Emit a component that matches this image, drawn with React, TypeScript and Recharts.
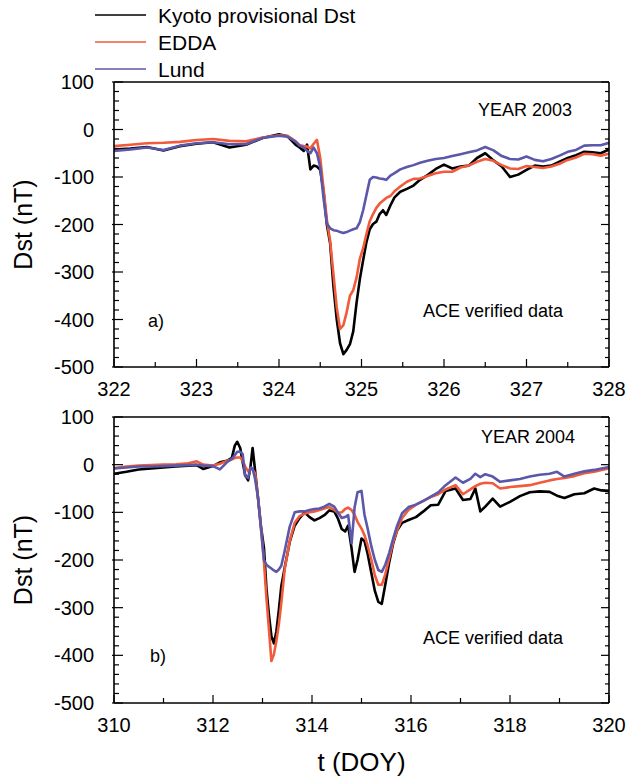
import React from 'react';
import { LineChart, Line, XAxis, YAxis } from 'recharts';

const FONT = '"Liberation Sans", Arial, Helvetica, sans-serif';
const NARROW = '"Liberation Sans Narrow", "Arial Narrow", "Liberation Sans", Arial, sans-serif';
const KYOTO_COLOR = '#000000';
const EDDA_COLOR = '#f15a3a';
const LUND_COLOR = '#5b57a9';

const PLOT_LEFT = 114;
const PLOT_RIGHT = 609;

// ---- panel a), 2003 ----
const timesA = [
  322.0, 322.2, 322.4, 322.6, 322.8, 323.0, 323.2, 323.4, 323.6, 323.8,
  324.0, 324.1, 324.2, 324.25, 324.3, 324.34, 324.38, 324.42, 324.46, 324.5,
  324.54, 324.58, 324.62, 324.66, 324.7, 324.74, 324.78, 324.82, 324.86, 324.9, 324.94, 324.98,
  325.02, 325.06, 325.1, 325.14, 325.18, 325.22, 325.26, 325.3,
  325.35, 325.4, 325.47, 325.55, 325.63, 325.71, 325.8, 325.9,
  326.0, 326.1, 326.2, 326.3, 326.4, 326.5, 326.6, 326.7, 326.8, 326.9, 327.0,
  327.1, 327.2, 327.3, 327.4, 327.5, 327.6, 327.7, 327.8, 327.9, 328.0,
];
const kyotoA = [
  -42, -40, -37, -44, -35, -30, -27, -38, -32, -18,
  -10, -14, -32, -38, -45, -32, -84, -76, -78, -85,
  -130, -200, -240, -331, -400, -450, -473, -464, -452, -425, -365, -315,
  -275, -237, -210, -199, -194, -178, -170, -180,
  -160, -143, -131, -125, -118, -106, -96, -83,
  -74, -82, -78, -76, -60, -50, -65, -78, -100, -95, -85,
  -76, -78, -76, -68, -60, -54, -47, -48, -50, -42,
];
const eddaA = [
  -35, -32, -29, -28, -26, -22, -20, -24, -25, -17,
  -12, -13, -25, -33, -35, -36, -40, -30, -22, -60,
  -125, -190, -235, -305, -375, -420, -412, -385, -350, -338, -312, -272,
  -250, -220, -193, -178, -165, -156, -150, -144,
  -140, -130, -120, -110, -104, -103, -98, -92,
  -89, -89, -80, -76, -68, -62, -66, -75, -82, -83, -77,
  -79, -81, -78, -72, -64, -59, -51, -52, -55, -51,
];
const lundA = [
  -45, -42, -38, -43, -34, -29, -27, -31, -31, -18,
  -13, -15, -25, -34, -38, -45, -50, -38, -50, -80,
  -145, -198, -208, -212, -213, -216, -218, -216, -213, -210, -208, -195,
  -170, -138, -106, -100, -101, -103, -104, -106,
  -97, -92, -84, -79, -75, -70, -66, -62,
  -60, -56, -52, -48, -44, -37, -44, -56, -62, -63, -57,
  -64, -67, -62, -55, -47, -43, -34, -33, -33, -28,
];
const xTicksA = [322, 322.5, 323, 323.5, 324, 324.5, 325, 325.5, 326, 326.5, 327, 327.5, 328];
const xLabelsA = [322, 323, 324, 325, 326, 327, 328];

// ---- panel b), 2004 ----
const timesB = [
  310.0, 310.25, 310.5, 310.75, 311.0, 311.25, 311.5, 311.67, 311.8, 312.0,
  312.14, 312.28, 312.38, 312.44, 312.49, 312.55, 312.6, 312.65, 312.71, 312.76,
  312.8, 312.85, 312.91, 312.97, 313.03, 313.08, 313.13, 313.18, 313.23, 313.28,
  313.33, 313.38, 313.45, 313.55, 313.65, 313.75, 313.85, 313.95, 314.05, 314.15,
  314.25, 314.35, 314.45, 314.52, 314.6, 314.67, 314.73, 314.8, 314.86, 314.92,
  315.0, 315.06, 315.12, 315.2, 315.27, 315.34, 315.41, 315.48, 315.56, 315.64,
  315.72, 315.82, 315.95, 316.1, 316.25, 316.4, 316.55, 316.7, 316.9, 317.05,
  317.2, 317.3, 317.4, 317.5, 317.65, 317.8, 318.0, 318.2, 318.4, 318.6,
  318.8, 318.95, 319.1, 319.3, 319.5, 319.7, 319.85, 320.0,
];
const kyotoB = [
  -19, -15, -10, -8, -6, -4, -2, -1, -9, -3,
  5, 8, 14, 40, 48, 35, 5, -22, -33, -2,
  35, -12, -70, -130, -175, -260, -315, -360, -375, -350,
  -305, -255, -215, -162, -128, -112, -100, -110, -117, -112,
  -106, -96, -98, -112, -135, -140, -128, -176, -225, -200,
  -155, -160, -185, -228, -265, -288, -292, -252, -205, -165,
  -138, -122, -116, -110, -98, -85, -84, -55, -50, -74,
  -72, -50, -98, -88, -71, -88, -78, -66, -58, -56,
  -57, -65, -70, -62, -60, -50, -54, -55,
];
const eddaB = [
  -7, -4, -2, -1, 0, 1, 3, 7, 0, -2,
  2, 8, 11, 14, 15, 15, 8, -4, -14, -8,
  -10, -18, -70, -132, -205, -280, -345, -412, -398, -370,
  -335, -290, -218, -160, -122, -108, -103, -100, -98, -95,
  -92, -89, -95, -101, -100, -93, -90, -95, -105, -120,
  -134, -148, -168, -200, -232, -252, -252, -230, -196, -162,
  -138, -112, -95, -84, -76, -68, -62, -52, -43, -62,
  -52, -45, -40, -38, -39, -50, -47, -45, -43, -38,
  -33, -30, -28, -24, -18, -15, -11, -8,
];
const lundB = [
  -8, -6, -4, -4, -3, -2, -1, 0, -2, -3,
  -10, 5, 12, 20, 27, 27, 22, -24, -28, -6,
  -8, -30, -70, -135, -200, -210, -214, -218, -222, -225,
  -220, -212, -180, -130, -100, -98, -98, -95, -93, -92,
  -88, -82, -88, -100, -112, -110, -106, -165, -90, -58,
  -55, -105, -132, -172, -200, -221, -225, -210, -185, -155,
  -128, -102, -89, -84, -76, -67, -58, -43, -27, -38,
  -30, -19, -26, -20, -25, -36, -33, -30, -25, -21,
  -19, -15, -25, -19, -14, -11, -8, -5,
];
const xTicksB = [310, 311, 312, 313, 314, 315, 316, 317, 318, 319, 320];
const xLabelsB = [310, 312, 314, 316, 318, 320];

const yTicks = Array.from({ length: 31 }, (_, i) => -500 + i * 20);
const yDomain: [number, number] = [-500, 100];

function XTick(props: any) {
  const { x, payload, plotBottom, labels } = props;
  const major = labels.includes(payload.value);
  return (
    <g>
      <line x1={x} x2={x} y1={plotBottom} y2={plotBottom - (major ? 8 : 5)} stroke="#000" strokeWidth={1.2} />
      {major && (
        <text x={x} y={plotBottom + 29} textAnchor="middle" fontSize={20} fontFamily={FONT} fill="#000">
          {payload.value}
        </text>
      )}
    </g>
  );
}

function YTickLeft(props: any) {
  const { y, payload } = props;
  const major = payload.value % 100 === 0;
  return (
    <g>
      <line x1={PLOT_LEFT - (major ? 2 : 0)} x2={PLOT_LEFT + (major ? 9 : 5)} y1={y} y2={y} stroke="#000" strokeWidth={1.2} />
      {major && (
        <text x={94} y={y} dy="0.35em" textAnchor="end" fontSize={20} fontFamily={FONT} fill="#000">
          {payload.value}
        </text>
      )}
    </g>
  );
}

function YTickRight(props: any) {
  const { y, payload } = props;
  const major = payload.value % 100 === 0;
  return <line x1={PLOT_RIGHT} x2={PLOT_RIGHT - (major ? 8 : 4)} y1={y} y2={y} stroke="#000" strokeWidth={1.2} />;
}

type PanelProps = {
  times: number[];
  kyoto: number[];
  edda: number[];
  lund: number[];
  domain: [number, number];
  xTicks: number[];
  xLabels: number[];
  top: number;
  height: number;
  marginTop: number;
  bottomAxis: number;
};

function Panel(p: PanelProps) {
  const data = p.times.map((t, i) => ({ t, kyoto: p.kyoto[i], edda: p.edda[i], lund: p.lund[i] }));
  const plotBottom = p.height - p.bottomAxis;
  const axisLine = { stroke: '#000', strokeWidth: 1.6 };
  const lineProps = {
    xAxisId: 'b',
    yAxisId: 'l',
    type: 'linear' as const,
    dot: false,
    strokeWidth: 2.6,
    strokeLinejoin: 'round' as const,
    isAnimationActive: false,
  };
  return (
    <div style={{ position: 'absolute', left: 0, top: p.top }}>
      <LineChart width={628} height={p.height} data={data} margin={{ top: p.marginTop, right: 0, bottom: 0, left: 0 }}>
        <XAxis
          xAxisId="b"
          dataKey="t"
          type="number"
          domain={p.domain}
          ticks={p.xTicks}
          interval={0}
          allowDataOverflow
          height={p.bottomAxis}
          tickLine={false}
          axisLine={axisLine}
          tick={(tp: any) => <XTick {...tp} plotBottom={plotBottom} labels={p.xLabels} />}
        />
        <XAxis
          xAxisId="t"
          orientation="top"
          dataKey="t"
          type="number"
          domain={p.domain}
          allowDataOverflow
          height={2}
          tick={false}
          tickLine={false}
          axisLine={axisLine}
        />
        <YAxis
          yAxisId="l"
          type="number"
          domain={yDomain}
          ticks={yTicks}
          interval={0}
          allowDataOverflow
          width={PLOT_LEFT}
          tickLine={false}
          axisLine={axisLine}
          tick={(tp: any) => <YTickLeft {...tp} />}
        />
        <YAxis
          yAxisId="r"
          orientation="right"
          type="number"
          domain={yDomain}
          ticks={yTicks}
          interval={0}
          allowDataOverflow
          width={628 - PLOT_RIGHT}
          tickLine={false}
          axisLine={axisLine}
          tick={(tp: any) => <YTickRight {...tp} />}
        />
        <Line {...lineProps} dataKey="kyoto" stroke={KYOTO_COLOR} />
        <Line {...lineProps} dataKey="edda" stroke={EDDA_COLOR} />
        <Line {...lineProps} dataKey="lund" stroke={LUND_COLOR} />
      </LineChart>
    </div>
  );
}

const legendItems = [
  { label: 'Kyoto provisional Dst', color: KYOTO_COLOR, y: 15 },
  { label: 'EDDA', color: EDDA_COLOR, y: 42 },
  { label: 'Lund', color: LUND_COLOR, y: 69 },
];

export default function App() {
  const t = { fontFamily: FONT, fill: '#000' };
  return (
    <div style={{ position: 'absolute', left: 0, top: 0, width: 628, height: 778, background: '#fff' }}>
      <Panel
        times={timesA}
        kyoto={kyotoA}
        edda={eddaA}
        lund={lundA}
        domain={[322, 328]}
        xTicks={xTicksA}
        xLabels={xLabelsA}
        top={0}
        height={400}
        marginTop={80}
        bottomAxis={33}
      />
      <Panel
        times={timesB}
        kyoto={kyotoB}
        edda={eddaB}
        lund={lundB}
        domain={[310, 320]}
        xTicks={xTicksB}
        xLabels={xLabelsB}
        top={400}
        height={378}
        marginTop={15}
        bottomAxis={75}
      />
      <svg width={628} height={778} style={{ position: 'absolute', left: 0, top: 0, pointerEvents: 'none' }}>
        {legendItems.map((it) => (
          <g key={it.label}>
            <line x1={95} x2={146} y1={it.y} y2={it.y} stroke={it.color} strokeWidth={1.4} />
            <text x={158} y={it.y + 8} fontSize={21} fontFamily={NARROW} fill="#000">
              {it.label}
            </text>
          </g>
        ))}
        <text transform="translate(32,224.5) rotate(-90)" textAnchor="middle" fontSize={25} {...t}>
          Dst (nT)
        </text>
        <text transform="translate(32,560) rotate(-90)" textAnchor="middle" fontSize={25} {...t}>
          Dst (nT)
        </text>
        <text x={361.5} y={771} textAnchor="middle" fontSize={26} {...t}>
          t (DOY)
        </text>
        <text x={478} y={116} fontSize={18} {...t}>YEAR 2003</text>
        <text x={423} y={317} fontSize={18} {...t}>ACE verified data</text>
        <text x={148} y={327} fontSize={18} {...t}>a)</text>
        <text x={481} y={443} fontSize={18} {...t}>YEAR 2004</text>
        <text x={423} y={644} fontSize={18} {...t}>ACE verified data</text>
        <text x={150} y={662} fontSize={18} {...t}>b)</text>
      </svg>
    </div>
  );
}
